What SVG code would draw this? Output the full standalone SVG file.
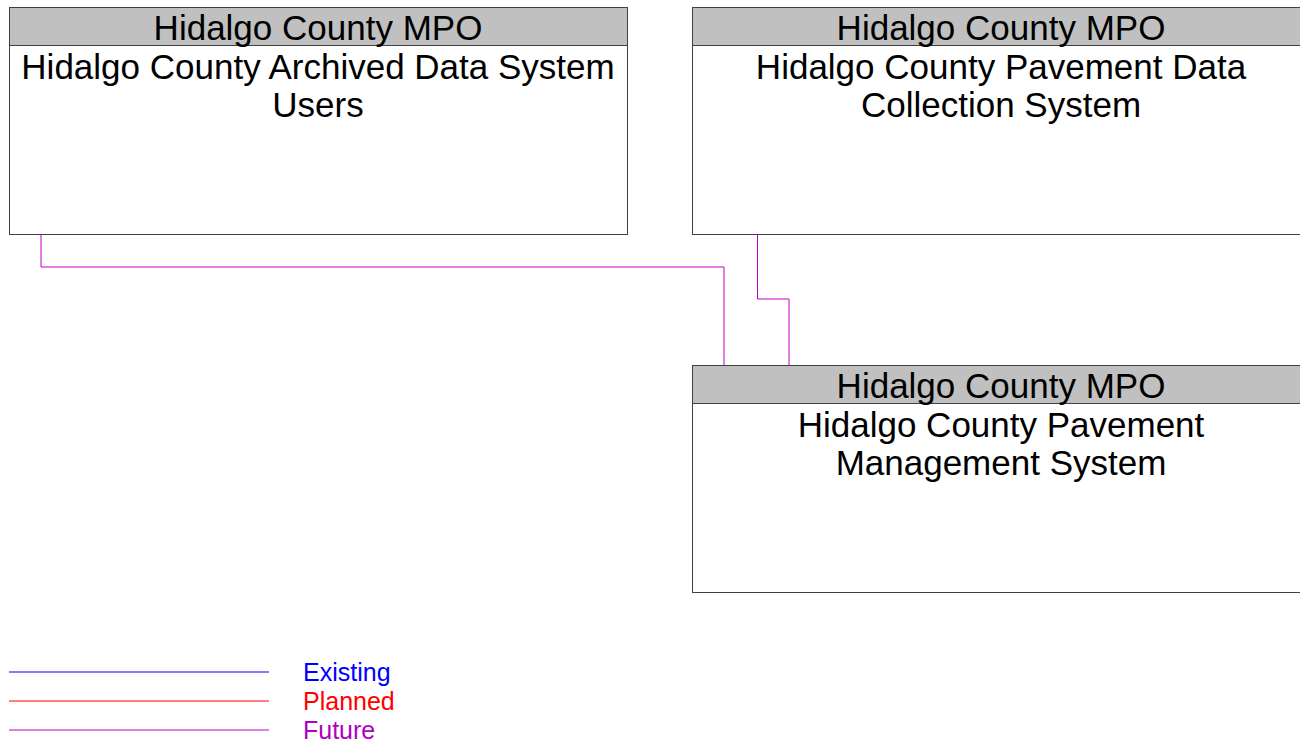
<svg xmlns="http://www.w3.org/2000/svg" width="1300" height="743" viewBox="0 0 1300 743">
<style>
.box{fill:#fff;stroke:#404040;stroke-width:1}
.hdr{fill:#c0c0c0;stroke:#404040;stroke-width:1}
.t{font-family:"Liberation Sans",Arial,sans-serif;font-size:35px;fill:#000;text-anchor:middle}
.con{fill:none;stroke:#c000c0;stroke-width:1}
.lg{font-family:"Liberation Sans",Arial,sans-serif;font-size:25px}
</style>
<rect width="1300" height="743" fill="#fff"/>
<g id="connectors">
<polyline class="con" points="41,234 41,267 724,267 724,365"/>
<polyline class="con" points="757.5,234 757.5,299 789,299 789,365"/>
</g>
<g id="node-archived-users">
<rect class="box" x="9.5" y="7.5" width="618" height="227"/>
<rect class="hdr" x="9.5" y="7.5" width="618" height="38"/>
<text class="t" x="318" y="39.5">Hidalgo County MPO</text>
<text class="t" x="318" y="79">Hidalgo County Archived Data System</text>
<text class="t" x="318" y="117">Users</text>
</g>
<g id="node-pavement-data">
<rect class="box" x="692.5" y="7.5" width="618" height="227"/>
<rect class="hdr" x="692.5" y="7.5" width="618" height="38"/>
<text class="t" x="1001" y="39.5">Hidalgo County MPO</text>
<text class="t" x="1001" y="79">Hidalgo County Pavement Data</text>
<text class="t" x="1001" y="117">Collection System</text>
</g>
<g id="node-pavement-mgmt">
<rect class="box" x="692.5" y="365.5" width="618" height="227"/>
<rect class="hdr" x="692.5" y="365.5" width="618" height="38"/>
<text class="t" x="1001" y="397.5">Hidalgo County MPO</text>
<text class="t" x="1001" y="437">Hidalgo County Pavement</text>
<text class="t" x="1001" y="475">Management System</text>
</g>
<g id="legend">
<line x1="9" y1="672" x2="269" y2="672" stroke="#0000ff" stroke-width="1"/>
<line x1="9" y1="701" x2="269" y2="701" stroke="#ff0000" stroke-width="1"/>
<line x1="9" y1="730" x2="269" y2="730" stroke="#c000c0" stroke-width="1"/>
<text class="lg" x="303" y="681" fill="#0000ff">Existing</text>
<text class="lg" x="303" y="710" fill="#ff0000">Planned</text>
<text class="lg" x="303" y="739" fill="#b000c0">Future</text>
</g>
</svg>
